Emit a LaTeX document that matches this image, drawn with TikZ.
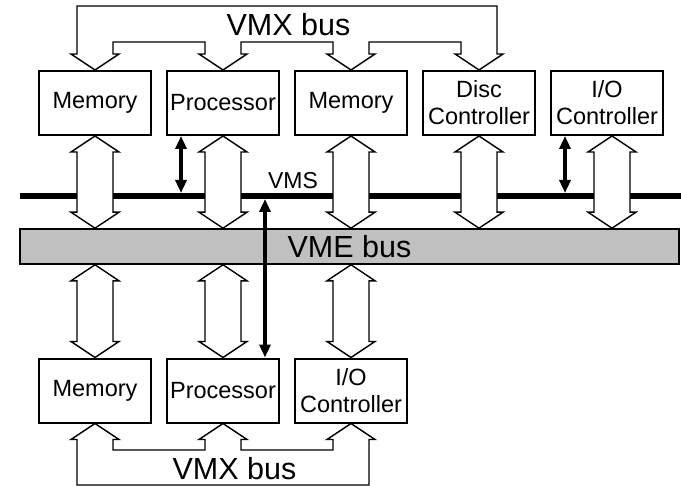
\documentclass[tikz,border=0pt]{standalone}
\usepackage{fontspec}
\setmainfont{Liberation Sans}
\usetikzlibrary{arrows.meta,calc}
\definecolor{busgrey}{HTML}{C0C0C0}
\tikzset{
  >={Triangle[length=13bp,width=11bp]},
  % boxes
  unit/.style={draw,line width=2bp,fill=white,minimum width=112bp,
               minimum height=64bp,inner sep=0pt,align=center,
               font=\fontsize{23.5bp}{27bp}\selectfont},
  vmebar/.style={draw,fill=busgrey,line width=1.6bp,minimum width=659bp,
                 minimum height=35bp,inner sep=0pt,
                 font=\fontsize{30.5bp}{34bp}\selectfont},
  buslbl/.style={inner sep=0pt,font=\fontsize{30.5bp}{34bp}\selectfont},
  smalllbl/.style={inner sep=0pt,font=\fontsize{23bp}{27bp}\selectfont},
  % lines
  hollow/.style={draw,fill=white,line width=1.4bp,line join=miter},
  ctl/.style={<->,line width=4bp},
  vmsline/.style={line width=6bp},
}
% hollow double arrow, #1 top tip, #2 bottom tip
\newcommand\duplex[2]{%
  \draw[hollow] (#1) -- ++(-24,16) -- ++(6,0) -- ($(#2)+(-18,-16)$)
    -- ++(-6,0) -- (#2) -- ++(24,-16) -- ++(-6,0) -- ($(#1)+(18,16)$)
    -- ++(6,0) -- cycle;}

\begin{document}
\begin{tikzpicture}[x=1bp,y=-1bp]
  \useasboundingbox (0,0) rectangle (681,486);
  % upper row
  \node[unit] (m1) at (95,103) {Memory};
  \node[unit] (p1) at (223,103) {Processor};
  \node[unit] (m2) at (351,103) {Memory};
  \node[unit] (dc) at (479,103) {Disc\\Controller};
  \node[unit] (io1) at (607,103) {I/O\\Controller};
  % lower row
  \node[unit] (m3) at (95,390.5) {Memory};
  \node[unit] (p2) at (223,390.5) {Processor};
  \node[unit] (io2) at (351,390.5) {I/O\\Controller};
  \node[vmebar] (vme) at (349.5,246.5) {VME bus};
  \coordinate (vmsW) at (20,196);
  \coordinate (vmsE) at (681,196);
  \draw[vmsline] (vmsW) -- (vmsE);
  \node[smalllbl] (vmstag) at (293,181) {VMS};
  % links to the VME bus
  \coordinate (u1) at (m1.south |- vme.north);
  \coordinate (u2) at (p1.south |- vme.north);
  \coordinate (u3) at (m2.south |- vme.north);
  \coordinate (u4) at (dc.south |- vme.north);
  \coordinate (io1s) at ($(io1.south)+(5,0)$);
  \coordinate (u5) at (io1s |- vme.north);
  \coordinate (l1) at (m3.north |- vme.south);
  \coordinate (l2) at (p2.north |- vme.south);
  \coordinate (l3) at (io2.north |- vme.south);
  \duplex{m1.south}{u1}
  \duplex{p1.south}{u2}
  \duplex{m2.south}{u3}
  \duplex{dc.south}{u4}
  \duplex{io1s}{u5}
  \duplex{l1}{m3.north}
  \duplex{l2}{p2.north}
  \duplex{l3}{io2.north}
  % upper VMX bus
  \draw[hollow] (m1.north) -- ++(-24,-16) -- ++(6,0) -- ++(0,-48)
    -| ($(dc.north)+(18,-16)$) -- ++(6,0) -- (dc.north)
    -- ++(-24,-16) -- ++(6,0) -- ++(0,-12) -| ($(m2.north)+(18,-16)$)
    -- ++(6,0) -- (m2.north)
    -- ++(-24,-16) -- ++(6,0) -- ++(0,-12) -| ($(p1.north)+(18,-16)$)
    -- ++(6,0) -- (p1.north)
    -- ++(-24,-16) -- ++(6,0) -- ++(0,-12) -| ($(m1.north)+(18,-16)$)
    -- ++(6,0) -- cycle;
  \node[buslbl] (vmxtop) at (288.5,25) {VMX bus};
  % lower VMX bus
  \draw[hollow] (m3.south) -- ++(-24,16) -- ++(6,0) -- ++(0,45.5)
    -| ($(io2.south)+(18,16)$) -- ++(6,0) -- (io2.south)
    -- ++(-24,16) -- ++(6,0) -- ++(0,10.5) -| ($(p2.south)+(18,16)$)
    -- ++(6,0) -- (p2.south)
    -- ++(-24,16) -- ++(6,0) -- ++(0,10.5) -| ($(m3.south)+(18,16)$)
    -- ++(6,0) -- cycle;
  \node[buslbl] (vmxbot) at (234.5,468.5) {VMX bus};
  % VMS connections
  \coordinate (c1) at ($(p1.south west)+(15,0)$);
  \coordinate (c2) at ($(io1.south west)+(15,0)$);
  \coordinate (c3) at ($(p2.north east)+(-15,0)$);
  \draw[ctl,shorten >=3bp] (c1) -- (c1 |- vmsW);
  \draw[ctl,shorten >=3bp] (c2) -- (c2 |- vmsW);
  \draw[ctl,shorten <=3bp] (c3 |- vmsW) -- (c3);
\end{tikzpicture}
\end{document}
